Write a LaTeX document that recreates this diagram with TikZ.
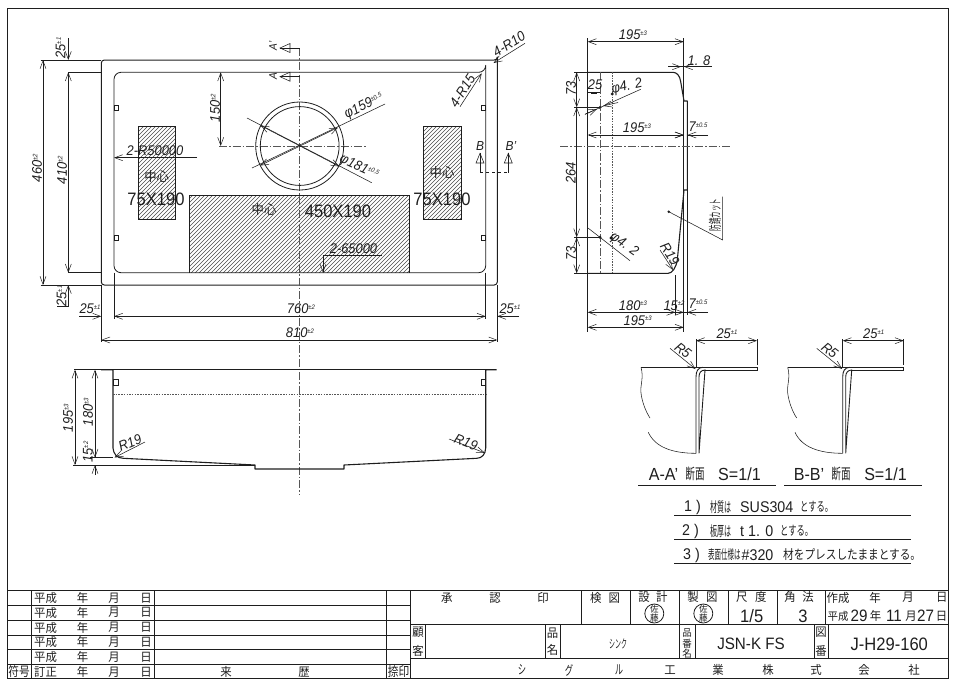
\documentclass[tikz,border=0pt]{standalone}
\usepackage{fontspec}
\usetikzlibrary{arrows.meta}
\setmainfont{Liberation Sans}[FakeStretch=0.92]
\newfontfamily\jp{Noto Sans CJK JP}[FakeStretch=0.95]
\newfontfamily\jpn{Noto Sans CJK JP}[FakeStretch=0.5]
\newfontfamily\jpm{Noto Sans CJK JP}[FakeStretch=0.64]
\newfontfamily\jpw{Noto Sans CJK JP}[FakeStretch=0.82]
\definecolor{ink}{HTML}{1E1E1E}
\newcommand\tl[1]{\raisebox{4.5pt}{\fontsize{6.5}{6.5}\selectfont #1}}
\newcounter{tn}
\newcommand\lb[3][]{\stepcounter{tn}\node (t\arabic{tn}) [txt,#1] at (#2) {#3};}
\newcommand\dl[3][]{\lb[dimt,#1]{#2}{#3}}
\newcommand\jl[3][]{\lb[jpt,#1]{#2}{#3}}
\tikzset{
  txt/.style={inner sep=0pt,text=ink},
  dimt/.style={font=\fontsize{14}{14}\selectfont\itshape},
  bigt/.style={font=\fontsize{18}{18}\selectfont},
  sect/.style={font=\fontsize{17.5}{17.5}\selectfont},
  notet/.style={anchor=west,font=\fontsize{15.5}{15.5}\selectfont},
  jpt/.style={font=\fontsize{12}{12}\selectfont\jp},
  narrowt/.style={font=\fontsize{13.5}{13.5}\selectfont\jpn},
  outl/.style={draw=ink,line width=1pt,line join=round},
  fine/.style={draw=ink,line width=.55pt},
  frameln/.style={draw=ink,line width=1pt},
  cen/.style={draw=ink!75,line width=.6pt,dash pattern=on 8pt off 2pt on 1.5pt off 2pt},
  dotln/.style={draw=ink!75,line width=.6pt,dash pattern=on 1.5pt off 1.2pt},
  hatchln/.style={draw=ink!80,line width=.4pt},
  dimboth/.style={fine,{Straight Barb[length=8pt,width=6pt,line width=.5pt]}-{Straight Barb[length=8pt,width=6pt,line width=.5pt]}},
  dimend/.style={fine,-{Straight Barb[length=8pt,width=6pt,line width=.5pt]}},
}
\begin{document}
\begin{tikzpicture}[x=1pt,y=-1pt]
\useasboundingbox (0,0) rectangle (955,689);
% ---------- frame and title block
\draw[frameln] (7.3,678.7) -- (7.3,8) -- (948,8) -- (948,678.7) -- cycle;
\draw[frameln] (7.3,590) -- (948,590);
\foreach \yy in {605,620,635,649.5,664} \draw[frameln] (7.3,\yy) -- (410.5,\yy);
\foreach \xx in {31,154.5,386.5,410.5} \draw[frameln] (\xx,590) -- (\xx,678.7);
\draw[frameln] (410.5,624) -- (948,624);
\draw[frameln] (410.5,658.3) -- (948,658.3);
\draw[frameln] (425.7,624) -- (425.7,658.3);
\foreach \xx in {581.7,630.3,679,728.3,777.3,825.7} \draw[frameln] (\xx,590) -- (\xx,624);
\foreach \xx in {545,560,679,695,814,828} \draw[frameln] (\xx,624) -- (\xx,658.3);
\foreach \yy in {598,612.5,627.5,642,657}{
  \jl{45.5,\yy}{平成}\jl{82.5,\yy}{年}\jl{114,\yy}{月}\jl{146,\yy}{日}
}
\lb[font=\fontsize{13}{13}\selectfont\jpw]{19,672}{符号}
\jl{45.5,672}{訂正}\jl{82.5,672}{年}\jl{114,672}{月}\jl{146,672}{日}
\jl{226,672}{来}\jl{304,672}{歴}
\lb[font=\fontsize{13}{13}\selectfont\jpw]{398.5,672}{捺印}
\jl{446.7,598}{承}\jl{495,598}{認}\jl{543,598}{印}
\jl{595.7,598}{検}\jl{614.3,598}{図}
\jl{644,597}{設}\jl{661.7,597}{計}
\jl{693,597}{製}\jl{711.7,597}{図}
\jl{741.7,597}{尺}\jl{760.7,597}{度}
\jl{790,597}{角}\jl{808,597}{法}
\jl{838,597.5}{作成}\jl{875,597.5}{年}\jl{908,597.5}{月}\jl{941.7,597.5}{日}
\lb[bigt]{751.7,616}{1/5}
\lb[bigt]{803,616}{3}
\lb[font=\fontsize{11}{11}\selectfont\jp]{838,616}{平成}
\lb[font=\fontsize{16.5}{16.5}\selectfont]{859,615.5}{29}
\jl{875.5,616}{年}
\lb[font=\fontsize{16.5}{16.5}\selectfont]{894,615.5}{11}
\jl{911,616}{月}
\lb[font=\fontsize{16.5}{16.5}\selectfont]{925.5,615.5}{27}
\jl{941.5,616}{日}
\foreach \cx in {654.3,703.3}{
  \draw[fine,line width=.8pt] (\cx,613.5) circle (9.5);
  \lb[font=\fontsize{9}{9}\selectfont\jp]{\cx,609}{佐}
  \lb[font=\fontsize{9}{9}\selectfont\jp]{\cx,618}{藤}
}
\jl{418,632.7}{顧}\jl{418,651}{客}
\jl{552.5,632.7}{品}\jl{552.5,650}{名}
\lb[font=\fontsize{10}{10}\selectfont\jp]{687,632.5}{品}
\lb[font=\fontsize{10}{10}\selectfont\jp]{687,643.5}{番}
\lb[font=\fontsize{10}{10}\selectfont\jp]{687,654}{名}
\jl{821,632}{図}\jl{821,651}{番}
\lb[font=\fontsize{12}{12}\selectfont\jpn]{618,644}{シンク}
\lb[font=\fontsize{16.5}{16.5}\selectfont]{751,644.3}{JSN-K FS}
\lb[bigt]{889.3,644}{J-H29-160}
\lb[font=\fontsize{13}{13}\selectfont\jpm]{522,670}{シ}
\lb[font=\fontsize{13}{13}\selectfont\jpm]{569,670}{グ}
\lb[font=\fontsize{13}{13}\selectfont\jpm]{619,670}{ル}
\jl{670,670}{工}\jl{718,670}{業}\jl{768,670}{株}\jl{816,670}{式}\jl{864,670}{会}\jl{914,670}{社}
% ---------- plan view
\begin{scope}
  \clip (138,126.7) rectangle (175,219.3);
  \foreach \k in {-110,-106,...,50} \draw[hatchln] (130+\k,230) -- (130+\k+120,110);
\end{scope}
\begin{scope}
  \clip (423.7,126.7) rectangle (461,219.3);
  \foreach \k in {-110,-106,...,50} \draw[hatchln] (415+\k,230) -- (415+\k+120,110);
\end{scope}
\begin{scope}
  \clip (189.5,195) rectangle (409.3,272.7);
  \foreach \k in {-10,-6,...,320} \draw[hatchln] (110+\k,280) -- (110+\k+100,180);
\end{scope}
\draw[fine] (138,126.7) rectangle (175,219.3);
\draw[fine] (423.7,126.7) rectangle (461,219.3);
\draw[fine] (189.5,272.7) |- (409.3,195) -- (409.3,272.7);
\draw[outl] (104.3,60) -- (494.3,60) arc[start angle=90,end angle=0,radius=3] -- (497.3,282) arc[start angle=0,end angle=90,radius=3] -- (104.3,285) arc[start angle=90,end angle=180,radius=3] -- (101.3,63) arc[start angle=180,end angle=270,radius=3] -- cycle;
\draw[outl,line width=.8pt] (121,72.3) -- (478.7,72.3) arc[start angle=90,end angle=0,radius=7] -- (485.7,265.7) arc[start angle=0,end angle=90,radius=7] -- (121,272.7) arc[start angle=90,end angle=180,radius=7] -- (114,79.3) arc[start angle=180,end angle=270,radius=7] -- cycle;
\foreach \yy in {105,235.3}{
  \draw[fine] (114,\yy) rectangle (118.3,\yy+5);
  \draw[fine] (481,\yy) rectangle (485.7,\yy+5);
}
\draw[cen] (299.7,48) -- (299.7,495);
\draw[cen] (219,146) -- (367,146);
\draw[fine,line width=.8pt] (299.7,146) circle (44);
\draw[fine,line width=.8pt] (299.7,146) circle (39.4);
\draw[fine] (252,168) -- (385,104);
\draw[fine] (247,118) -- (371.7,182.7);
\draw[dimend] (300,146) -- (338,127.5);
\draw[dimend] (300,146) -- (260,165.5);
\draw[dimend] (300,146) -- (339.5,166.5);
\draw[dimend] (300,146) -- (260.5,125.5);
\dl[rotate=26]{364,106.5}{φ159\tl{±0.5}}
\dl[rotate=-25]{359,167.5}{φ181\tl{±0.5}}
% section marks
\foreach \yy in {48,76.7}{
  \draw[fine] (299.7,\yy) -- (280,\yy);
  \draw[fine] (280,\yy) -- (290,\yy-4.5) -- (290,\yy+4.5) -- cycle;
}
\lb[font=\fontsize{11}{11}\selectfont\itshape,rotate=90]{273,46}{A'}
\lb[font=\fontsize{11}{11}\selectfont\itshape,rotate=90]{273,76}{A}
\draw[fine,dashed] (480,172.7) -- (508.3,172.7);
\foreach \xx in {480,508.3}{
  \draw[fine] (\xx,172.7) -- (\xx,153.3);
  \draw[fine] (\xx,153.3) -- (\xx-4,163) -- (\xx+4,163) -- cycle;
}
\lb[font=\fontsize{13}{13}\selectfont\itshape]{480,146}{B}
\lb[font=\fontsize{13}{13}\selectfont\itshape]{511,146}{B'}
% left dimensions
\draw[fine] (40.7,60) -- (101.3,60);
\draw[fine] (40.7,285) -- (101.3,285);
\draw[fine] (68,72.3) -- (101.3,72.3);
\draw[fine] (68,272.7) -- (101.3,272.7);
\draw[dimboth] (43,60) -- (43,285);
\draw[dimboth] (68.3,72.3) -- (68.3,272.7);
\draw[dimend] (68.3,38) -- (68.3,60);
\draw[dimend] (68.3,307) -- (68.3,285);
\draw[fine] (57,306.7) -- (68.3,306.7);
\dl[rotate=90]{37,168}{460\tl{±2}}
\dl[rotate=90]{62,170}{410\tl{±2}}
\dl[rotate=90]{60.5,48}{25\tl{±1}}
\dl[rotate=90]{61.5,296}{25\tl{±1}}
% bottom dimensions
\draw[fine] (101.3,285) -- (101.3,342);
\draw[fine] (497.3,285) -- (497.3,342);
\draw[fine] (114,272.7) -- (114,318.5);
\draw[fine] (485.7,272.7) -- (485.7,318.5);
\draw[dimboth] (114,316.3) -- (485.7,316.3);
\draw[dimboth] (101.3,340) -- (497.3,340);
\draw[dimend] (79,316.3) -- (101.3,316.3);
\draw[dimend] (519,316.3) -- (497.3,316.3);
\dl{90,309}{25\tl{±1}}
\dl{510,309}{25\tl{±1}}
\dl{301,309}{760\tl{±2}}
\dl{300,333}{810\tl{±2}}
\draw[dimboth] (220.7,72.3) -- (220.7,146);
\dl[rotate=90]{215,108}{150\tl{±2}}
% internal notes
\draw[dimend] (197,157.7) -- (114,157.7);
\dl{155,151}{2-R50000}
\lb[font=\fontsize{13}{13}\selectfont\jp]{156.7,177}{中心}
\lb[bigt]{156,199}{75X190}
\lb[font=\fontsize{13}{13}\selectfont\jp]{442,173}{中心}
\lb[bigt]{442,199}{75X190}
\lb[font=\fontsize{13}{13}\selectfont\jp]{264,210}{中心}
\lb[bigt]{338,211}{450X190}
\dl{353.5,248.5}{2-65000}
\draw[fine] (381.7,255) -- (322.5,255);
\draw[dimend] (323,255) -- (323,272.7);
\draw[dimend] (525,43.3) -- (493.5,63);
\dl[rotate=32]{509,44}{4-R10}
\draw[dimend] (460,106.7) -- (481.7,73.3);
\dl[rotate=57]{462.5,91}{4-R15}
% ---------- front view
\draw[fine] (74,369.7) -- (113,369.7);
\draw[fine] (113,369.7) -- (485.7,369.7);
\draw[outl,line width=1.1pt] (101,369.7) -- (113,369.7) -- (113,448) .. controls (113.5,454) and (117,458.3) .. (123.3,458.3) -- (255,465) -- (255,469) -- (344,469) -- (344,465) -- (476.7,458.3) .. controls (482,458.3) and (485.5,454) .. (485.7,448) -- (485.7,369.7) -- (496.7,369.7);
\draw[dotln] (113,394) -- (485.7,394);
\draw[fine] (113,379) rectangle (118,385);
\draw[fine] (481,379) rectangle (485.7,385);
\draw[fine] (73,465) -- (255,465);
\draw[fine] (90,457.7) -- (112.5,457.7);
\draw[dimboth] (75,369.7) -- (75,465);
\draw[dimboth] (95,369.7) -- (95,457.7);
\draw[dimend] (95,475) -- (95,465);
\dl[rotate=90]{68,418}{195\tl{±3}}
\dl[rotate=90]{88,412}{180\tl{±3}}
\dl[rotate=90]{88,452}{15\tl{±2}}
\draw[dimend] (145,442) -- (114.5,457.5);
\dl[rotate=22]{130,443}{R19}
\draw[dimend] (449,439) -- (485,453);
\dl[rotate=-22]{466,442}{R19}
% ---------- side view
\draw[outl,line width=1.1pt] (587.7,60) -- (587.7,285);
\draw[outl,line width=1.1pt] (587.7,72.3) -- (673.3,72.3) .. controls (677,72.5) and (680,76) .. (680.7,81.7) -- (684,101) -- (687.3,101) -- (687.3,190) -- (684,190) -- (677.3,260) .. controls (676,268) and (672,273.3) .. (668.3,273.3) -- (587.7,273.3);
\draw[fine] (683.7,38) -- (683.7,331.7);
\draw[fine] (587.7,38) -- (587.7,60);
\draw[fine] (587.7,285) -- (587.7,331.7);
\draw[fine] (687,190) -- (687,315);
\draw[fine] (675.3,275) -- (675.3,315);
\draw[cen] (600,72.3) -- (600,273.3);
\draw[dotln] (612.3,72.3) -- (612.3,273.3);
\draw[cen] (560,146) -- (730.7,146);
\draw[dimboth] (587.7,41.7) -- (683.7,41.7);
\dl{633,35}{195\tl{±3}}
\draw[fine] (668,66.7) -- (711.7,66.7);
\draw[dimend] (669,66.7) -- (681,66.7);
\draw[dimend] (698,66.7) -- (684,66.7);
\dl{699,60.5}{1. 8}
\draw[fine] (574,72.3) -- (587.7,72.3);
\draw[fine] (574,107.3) -- (600,107.3);
\draw[fine] (574,237.3) -- (600,237.3);
\draw[fine] (574,273.3) -- (587.7,273.3);
\draw[dimboth] (576.7,72.3) -- (576.7,107.3);
\draw[dimboth] (576.7,107.3) -- (576.7,237.3);
\draw[dimboth] (576.7,237.3) -- (576.7,273.3);
\dl[rotate=90]{571,88}{73}
\dl[rotate=90]{570.7,172.7}{264}
\dl[rotate=90]{571,253}{73}
\dl{595,85}{25}
\draw[fine] (588,92) -- (600,92);
\draw[fine,line width=1pt] (591,93.5) -- (597,93.5);
\draw[fine] (585,114.3) -- (640.7,89.3);
\fill[ink] (600,107.5) circle (1.6);
\fill[ink] (612.3,94) circle (1.6);
\draw[dimend] (585,114.3) -- (597,109);
\draw[dimend] (618,102.5) -- (603,106);
\dl[rotate=12]{627,87}{φ4. 2}
\draw[fine] (588,228) -- (630,260.7);
\fill[ink] (600,237.3) circle (1.6);
\fill[ink] (611,238) circle (1.6);
\dl[rotate=-35]{624,245}{φ4. 2}
\draw[dimboth] (587.7,135) -- (683.7,135);
\dl{637,128}{195\tl{±3}}
\draw[fine] (687,135) -- (708,135);
\draw[dimend] (708,135) -- (687.5,135);
\draw[dimend] (670,135) -- (683.7,135);
\dl{698,127}{7\tl{±0.5}}
\fill[ink] (668.7,211.7) circle (1.4);
\draw[fine] (668.7,211.7) -- (722.7,240) -- (722.7,196.7);
\lb[font=\fontsize{13}{13}\selectfont\jpn,rotate=90]{715,215}{防錆カット}
\draw[dimend] (660,250) -- (673,270);
\dl[rotate=-58]{670,254}{R19}
\draw[dimboth] (587.7,312.3) -- (675.3,312.3);
\draw[fine] (675.3,312.3) -- (708,312.3);
\draw[dimend] (708,312.3) -- (687.3,312.3);
\draw[dimend] (664,312.3) -- (683.7,312.3);
\dl{633,305.5}{180\tl{±3}}
\dl{674,305.5}{15\tl{±2}}
\dl{698,304}{7\tl{±0.5}}
\draw[dimboth] (587.7,327.3) -- (683.7,327.3);
\dl{637.7,320.5}{195\tl{±3}}
% ---------- section details
\foreach \dx in {0,146.7}{
\begin{scope}[shift={(\dx,0)}]
  \draw[fine,line width=.9pt] (641,367.3) -- (703,367.3) -- (757,367.3) -- (757,370) -- (705,370);
  \draw[fine,line width=.9pt] (696,453.3) -- (696,377) .. controls (696,371) and (698,367.5) .. (703,367.3);
  \draw[fine,line width=.9pt] (705,370) .. controls (701,370.3) and (699,372.5) .. (699,377) -- (699,453.3) -- cycle;
  \draw[fine] (641,367.3) .. controls (644,378) and (640,385) .. (641,393) .. controls (642,402) and (646,412) .. (650,418);
  \draw[fine] (648.3,432.3) .. controls (655,447) and (672,453.3) .. (696,453.3);
  \draw[fine] (696,339) -- (696,367.3);
  \draw[fine] (757,339) -- (757,365);
  \draw[dimboth] (696,340.7) -- (757,340.7);
  \dl{727,334}{25\tl{±1}}
  \draw[dimend] (670,348.3) -- (695.5,369);
  \dl[rotate=-38]{683,350.5}{R5}
\end{scope}}
\lb[sect]{663.5,474}{A-A'}
\lb[sect]{809,474}{B-B'}
\lb[font=\fontsize{15}{15}\selectfont\jpm]{695,474}{断面}
\lb[font=\fontsize{15}{15}\selectfont\jpm]{841,474}{断面}
\lb[sect]{739.5,474}{S=1/1}
\lb[sect]{885.5,474}{S=1/1}
\draw[fine] (638,485.7) -- (775.7,485.7);
\draw[fine] (784.3,485.7) -- (921.7,485.7);
\foreach \yy in {515,539.3,563.3} \draw[fine] (674,\yy) -- (910.7,\yy);
\lb[notet]{684,507}{1 )}
\lb[anchor=west,font=\fontsize{14}{14}\selectfont\jpn]{710,507}{材質は}
\lb[notet]{740,507}{SUS304}
\lb[anchor=west,font=\fontsize{13}{13}\selectfont\jpm]{800,507}{とする。}
\lb[notet]{682,531}{2 )}
\lb[anchor=west,font=\fontsize{14}{14}\selectfont\jpn]{710,531}{板厚は}
\lb[notet]{740,531}{t 1. 0}
\lb[anchor=west,font=\fontsize{13}{13}\selectfont\jpm]{780,531}{とする。}
\lb[notet]{683,555}{3 )}
\lb[anchor=west,font=\fontsize{13}{13}\selectfont\jpn]{708,555}{表面仕様は}
\lb[notet]{741.5,555}{\#320}
\lb[anchor=west,font=\fontsize{13}{13}\selectfont\jpw]{783,555}{材をプレスしたままとする。}
\end{tikzpicture}
\end{document}
